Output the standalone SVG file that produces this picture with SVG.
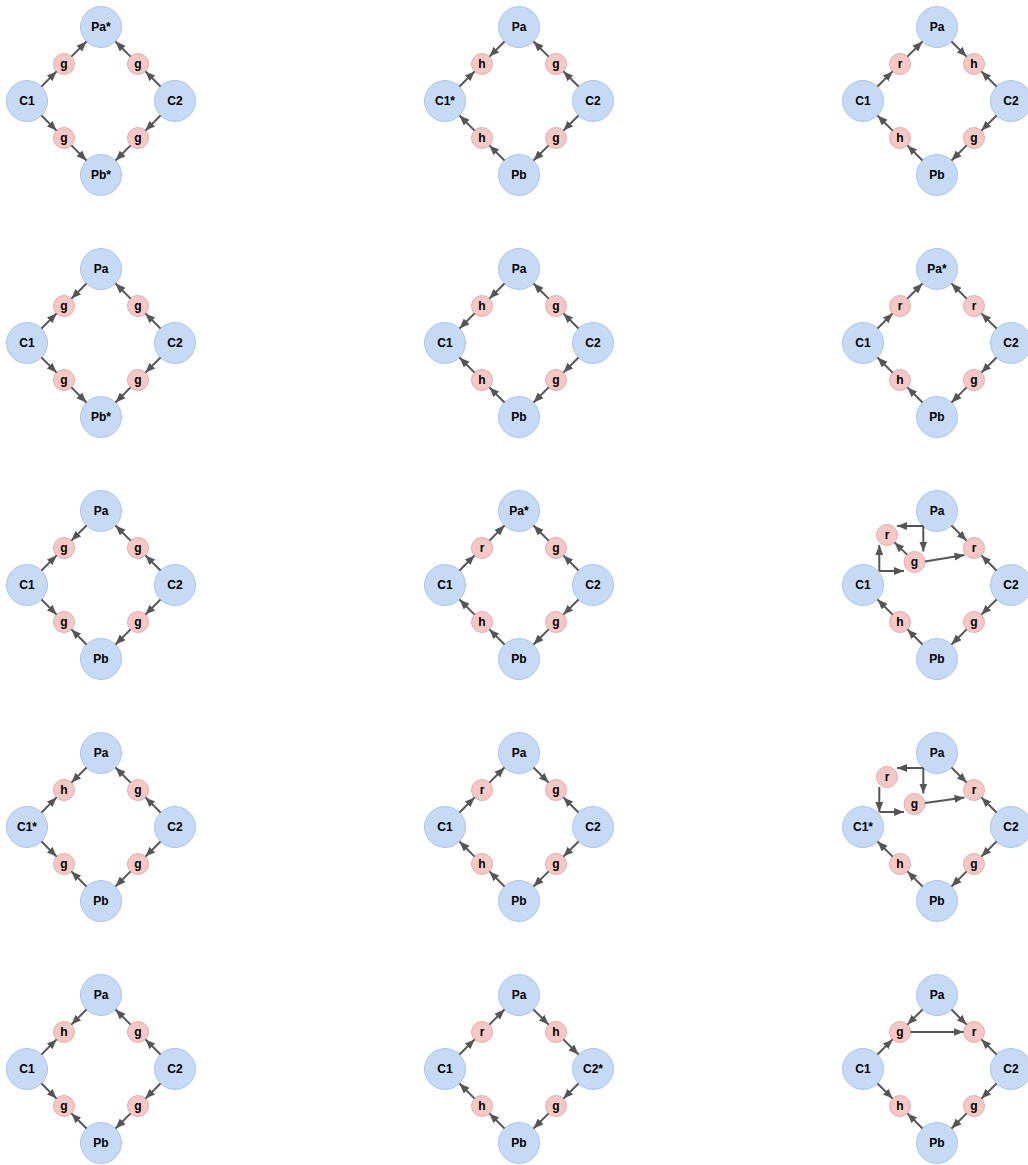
<svg xmlns="http://www.w3.org/2000/svg" width="1028" height="1165" viewBox="0 0 1028 1165">
<defs>
<marker id="ah" markerUnits="userSpaceOnUse" markerWidth="10" markerHeight="8" refX="10" refY="4" orient="auto"><path d="M0,0 L10,4 L0,8 Z" fill="#555555"/></marker>
<style>
.m circle{fill:#c6d9f5;stroke:#aec7ee;stroke-width:1}
.s circle{fill:#f5c8c8;stroke:#eaabab;stroke-width:1}
text{font-family:"Liberation Sans",Arial,sans-serif;font-size:12px;font-weight:bold;fill:#000;text-anchor:middle;dominant-baseline:central}
.e line{stroke:#555555;stroke-width:2;marker-end:url(#ah)}
</style>
</defs>
<rect width="1028" height="1165" fill="#ffffff"/>

<!-- Panel 1 -->
<g id="p1" transform="translate(101,101)">
<g id="p1-Pa" class="m"><circle cx="0" cy="-74" r="20.5"/><text x="0" y="-74">Pa*</text></g>
<g id="p1-C1" class="m"><circle cx="-74" cy="0" r="20.5"/><text x="-74" y="0">C1</text></g>
<g id="p1-C2" class="m"><circle cx="74" cy="0" r="20.5"/><text x="74" y="0">C2</text></g>
<g id="p1-Pb" class="m"><circle cx="0" cy="74" r="20.5"/><text x="0" y="74">Pb*</text></g>
<g id="p1-TL" class="s"><circle cx="-37" cy="-37" r="10.5"/><text x="-37" y="-37">g</text></g>
<g id="p1-TR" class="s"><circle cx="37" cy="-37" r="10.5"/><text x="37" y="-37">g</text></g>
<g id="p1-BL" class="s"><circle cx="-37" cy="37" r="10.5"/><text x="-37" y="37">g</text></g>
<g id="p1-BR" class="s"><circle cx="37" cy="37" r="10.5"/><text x="37" y="37">g</text></g>
<g id="p1-edges" class="e">
<line x1="-59.5" y1="-14.5" x2="-44.4" y2="-29.6"/>
<line x1="-29.6" y1="-44.4" x2="-14.5" y2="-59.5"/>
<line x1="59.5" y1="-14.5" x2="44.4" y2="-29.6"/>
<line x1="29.6" y1="-44.4" x2="14.5" y2="-59.5"/>
<line x1="-59.5" y1="14.5" x2="-44.4" y2="29.6"/>
<line x1="-29.6" y1="44.4" x2="-14.5" y2="59.5"/>
<line x1="59.5" y1="14.5" x2="44.4" y2="29.6"/>
<line x1="29.6" y1="44.4" x2="14.5" y2="59.5"/>
</g>
</g>

<!-- Panel 2 -->
<g id="p2" transform="translate(519,101)">
<g id="p2-Pa" class="m"><circle cx="0" cy="-74" r="20.5"/><text x="0" y="-74">Pa</text></g>
<g id="p2-C1" class="m"><circle cx="-74" cy="0" r="20.5"/><text x="-74" y="0">C1*</text></g>
<g id="p2-C2" class="m"><circle cx="74" cy="0" r="20.5"/><text x="74" y="0">C2</text></g>
<g id="p2-Pb" class="m"><circle cx="0" cy="74" r="20.5"/><text x="0" y="74">Pb</text></g>
<g id="p2-TL" class="s"><circle cx="-37" cy="-37" r="10.5"/><text x="-37" y="-37">h</text></g>
<g id="p2-TR" class="s"><circle cx="37" cy="-37" r="10.5"/><text x="37" y="-37">g</text></g>
<g id="p2-BL" class="s"><circle cx="-37" cy="37" r="10.5"/><text x="-37" y="37">h</text></g>
<g id="p2-BR" class="s"><circle cx="37" cy="37" r="10.5"/><text x="37" y="37">g</text></g>
<g id="p2-edges" class="e">
<line x1="-14.5" y1="-59.5" x2="-29.6" y2="-44.4"/>
<line x1="-59.5" y1="-14.5" x2="-44.4" y2="-29.6"/>
<line x1="59.5" y1="-14.5" x2="44.4" y2="-29.6"/>
<line x1="29.6" y1="-44.4" x2="14.5" y2="-59.5"/>
<line x1="-14.5" y1="59.5" x2="-29.6" y2="44.4"/>
<line x1="-44.4" y1="29.6" x2="-59.5" y2="14.5"/>
<line x1="59.5" y1="14.5" x2="44.4" y2="29.6"/>
<line x1="29.6" y1="44.4" x2="14.5" y2="59.5"/>
</g>
</g>

<!-- Panel 3 -->
<g id="p3" transform="translate(937,101)">
<g id="p3-Pa" class="m"><circle cx="0" cy="-74" r="20.5"/><text x="0" y="-74">Pa</text></g>
<g id="p3-C1" class="m"><circle cx="-74" cy="0" r="20.5"/><text x="-74" y="0">C1</text></g>
<g id="p3-C2" class="m"><circle cx="74" cy="0" r="20.5"/><text x="74" y="0">C2</text></g>
<g id="p3-Pb" class="m"><circle cx="0" cy="74" r="20.5"/><text x="0" y="74">Pb</text></g>
<g id="p3-TL" class="s"><circle cx="-37" cy="-37" r="10.5"/><text x="-37" y="-37">r</text></g>
<g id="p3-TR" class="s"><circle cx="37" cy="-37" r="10.5"/><text x="37" y="-37">h</text></g>
<g id="p3-BL" class="s"><circle cx="-37" cy="37" r="10.5"/><text x="-37" y="37">h</text></g>
<g id="p3-BR" class="s"><circle cx="37" cy="37" r="10.5"/><text x="37" y="37">g</text></g>
<g id="p3-edges" class="e">
<line x1="-59.5" y1="-14.5" x2="-44.4" y2="-29.6"/>
<line x1="-29.6" y1="-44.4" x2="-14.5" y2="-59.5"/>
<line x1="14.5" y1="-59.5" x2="29.6" y2="-44.4"/>
<line x1="59.5" y1="-14.5" x2="44.4" y2="-29.6"/>
<line x1="-14.5" y1="59.5" x2="-29.6" y2="44.4"/>
<line x1="-44.4" y1="29.6" x2="-59.5" y2="14.5"/>
<line x1="59.5" y1="14.5" x2="44.4" y2="29.6"/>
<line x1="29.6" y1="44.4" x2="14.5" y2="59.5"/>
</g>
</g>

<!-- Panel 4 -->
<g id="p4" transform="translate(101,343)">
<g id="p4-Pa" class="m"><circle cx="0" cy="-74" r="20.5"/><text x="0" y="-74">Pa</text></g>
<g id="p4-C1" class="m"><circle cx="-74" cy="0" r="20.5"/><text x="-74" y="0">C1</text></g>
<g id="p4-C2" class="m"><circle cx="74" cy="0" r="20.5"/><text x="74" y="0">C2</text></g>
<g id="p4-Pb" class="m"><circle cx="0" cy="74" r="20.5"/><text x="0" y="74">Pb*</text></g>
<g id="p4-TL" class="s"><circle cx="-37" cy="-37" r="10.5"/><text x="-37" y="-37">g</text></g>
<g id="p4-TR" class="s"><circle cx="37" cy="-37" r="10.5"/><text x="37" y="-37">g</text></g>
<g id="p4-BL" class="s"><circle cx="-37" cy="37" r="10.5"/><text x="-37" y="37">g</text></g>
<g id="p4-BR" class="s"><circle cx="37" cy="37" r="10.5"/><text x="37" y="37">g</text></g>
<g id="p4-edges" class="e">
<line x1="-14.5" y1="-59.5" x2="-29.6" y2="-44.4"/>
<line x1="-59.5" y1="-14.5" x2="-44.4" y2="-29.6"/>
<line x1="59.5" y1="-14.5" x2="44.4" y2="-29.6"/>
<line x1="29.6" y1="-44.4" x2="14.5" y2="-59.5"/>
<line x1="-59.5" y1="14.5" x2="-44.4" y2="29.6"/>
<line x1="-29.6" y1="44.4" x2="-14.5" y2="59.5"/>
<line x1="59.5" y1="14.5" x2="44.4" y2="29.6"/>
<line x1="29.6" y1="44.4" x2="14.5" y2="59.5"/>
</g>
</g>

<!-- Panel 5 -->
<g id="p5" transform="translate(519,343)">
<g id="p5-Pa" class="m"><circle cx="0" cy="-74" r="20.5"/><text x="0" y="-74">Pa</text></g>
<g id="p5-C1" class="m"><circle cx="-74" cy="0" r="20.5"/><text x="-74" y="0">C1</text></g>
<g id="p5-C2" class="m"><circle cx="74" cy="0" r="20.5"/><text x="74" y="0">C2</text></g>
<g id="p5-Pb" class="m"><circle cx="0" cy="74" r="20.5"/><text x="0" y="74">Pb</text></g>
<g id="p5-TL" class="s"><circle cx="-37" cy="-37" r="10.5"/><text x="-37" y="-37">h</text></g>
<g id="p5-TR" class="s"><circle cx="37" cy="-37" r="10.5"/><text x="37" y="-37">g</text></g>
<g id="p5-BL" class="s"><circle cx="-37" cy="37" r="10.5"/><text x="-37" y="37">h</text></g>
<g id="p5-BR" class="s"><circle cx="37" cy="37" r="10.5"/><text x="37" y="37">g</text></g>
<g id="p5-edges" class="e">
<line x1="-14.5" y1="-59.5" x2="-29.6" y2="-44.4"/>
<line x1="-44.4" y1="-29.6" x2="-59.5" y2="-14.5"/>
<line x1="59.5" y1="-14.5" x2="44.4" y2="-29.6"/>
<line x1="29.6" y1="-44.4" x2="14.5" y2="-59.5"/>
<line x1="-14.5" y1="59.5" x2="-29.6" y2="44.4"/>
<line x1="-44.4" y1="29.6" x2="-59.5" y2="14.5"/>
<line x1="59.5" y1="14.5" x2="44.4" y2="29.6"/>
<line x1="29.6" y1="44.4" x2="14.5" y2="59.5"/>
</g>
</g>

<!-- Panel 6 -->
<g id="p6" transform="translate(937,343)">
<g id="p6-Pa" class="m"><circle cx="0" cy="-74" r="20.5"/><text x="0" y="-74">Pa*</text></g>
<g id="p6-C1" class="m"><circle cx="-74" cy="0" r="20.5"/><text x="-74" y="0">C1</text></g>
<g id="p6-C2" class="m"><circle cx="74" cy="0" r="20.5"/><text x="74" y="0">C2</text></g>
<g id="p6-Pb" class="m"><circle cx="0" cy="74" r="20.5"/><text x="0" y="74">Pb</text></g>
<g id="p6-TL" class="s"><circle cx="-37" cy="-37" r="10.5"/><text x="-37" y="-37">r</text></g>
<g id="p6-TR" class="s"><circle cx="37" cy="-37" r="10.5"/><text x="37" y="-37">r</text></g>
<g id="p6-BL" class="s"><circle cx="-37" cy="37" r="10.5"/><text x="-37" y="37">h</text></g>
<g id="p6-BR" class="s"><circle cx="37" cy="37" r="10.5"/><text x="37" y="37">g</text></g>
<g id="p6-edges" class="e">
<line x1="-59.5" y1="-14.5" x2="-44.4" y2="-29.6"/>
<line x1="-29.6" y1="-44.4" x2="-14.5" y2="-59.5"/>
<line x1="59.5" y1="-14.5" x2="44.4" y2="-29.6"/>
<line x1="29.6" y1="-44.4" x2="14.5" y2="-59.5"/>
<line x1="-14.5" y1="59.5" x2="-29.6" y2="44.4"/>
<line x1="-44.4" y1="29.6" x2="-59.5" y2="14.5"/>
<line x1="59.5" y1="14.5" x2="44.4" y2="29.6"/>
<line x1="29.6" y1="44.4" x2="14.5" y2="59.5"/>
</g>
</g>

<!-- Panel 7 -->
<g id="p7" transform="translate(101,585)">
<g id="p7-Pa" class="m"><circle cx="0" cy="-74" r="20.5"/><text x="0" y="-74">Pa</text></g>
<g id="p7-C1" class="m"><circle cx="-74" cy="0" r="20.5"/><text x="-74" y="0">C1</text></g>
<g id="p7-C2" class="m"><circle cx="74" cy="0" r="20.5"/><text x="74" y="0">C2</text></g>
<g id="p7-Pb" class="m"><circle cx="0" cy="74" r="20.5"/><text x="0" y="74">Pb</text></g>
<g id="p7-TL" class="s"><circle cx="-37" cy="-37" r="10.5"/><text x="-37" y="-37">g</text></g>
<g id="p7-TR" class="s"><circle cx="37" cy="-37" r="10.5"/><text x="37" y="-37">g</text></g>
<g id="p7-BL" class="s"><circle cx="-37" cy="37" r="10.5"/><text x="-37" y="37">g</text></g>
<g id="p7-BR" class="s"><circle cx="37" cy="37" r="10.5"/><text x="37" y="37">g</text></g>
<g id="p7-edges" class="e">
<line x1="-14.5" y1="-59.5" x2="-29.6" y2="-44.4"/>
<line x1="-59.5" y1="-14.5" x2="-44.4" y2="-29.6"/>
<line x1="59.5" y1="-14.5" x2="44.4" y2="-29.6"/>
<line x1="29.6" y1="-44.4" x2="14.5" y2="-59.5"/>
<line x1="-59.5" y1="14.5" x2="-44.4" y2="29.6"/>
<line x1="-14.5" y1="59.5" x2="-29.6" y2="44.4"/>
<line x1="59.5" y1="14.5" x2="44.4" y2="29.6"/>
<line x1="29.6" y1="44.4" x2="14.5" y2="59.5"/>
</g>
</g>

<!-- Panel 8 -->
<g id="p8" transform="translate(519,585)">
<g id="p8-Pa" class="m"><circle cx="0" cy="-74" r="20.5"/><text x="0" y="-74">Pa*</text></g>
<g id="p8-C1" class="m"><circle cx="-74" cy="0" r="20.5"/><text x="-74" y="0">C1</text></g>
<g id="p8-C2" class="m"><circle cx="74" cy="0" r="20.5"/><text x="74" y="0">C2</text></g>
<g id="p8-Pb" class="m"><circle cx="0" cy="74" r="20.5"/><text x="0" y="74">Pb</text></g>
<g id="p8-TL" class="s"><circle cx="-37" cy="-37" r="10.5"/><text x="-37" y="-37">r</text></g>
<g id="p8-TR" class="s"><circle cx="37" cy="-37" r="10.5"/><text x="37" y="-37">g</text></g>
<g id="p8-BL" class="s"><circle cx="-37" cy="37" r="10.5"/><text x="-37" y="37">h</text></g>
<g id="p8-BR" class="s"><circle cx="37" cy="37" r="10.5"/><text x="37" y="37">g</text></g>
<g id="p8-edges" class="e">
<line x1="-59.5" y1="-14.5" x2="-44.4" y2="-29.6"/>
<line x1="-29.6" y1="-44.4" x2="-14.5" y2="-59.5"/>
<line x1="59.5" y1="-14.5" x2="44.4" y2="-29.6"/>
<line x1="29.6" y1="-44.4" x2="14.5" y2="-59.5"/>
<line x1="-14.5" y1="59.5" x2="-29.6" y2="44.4"/>
<line x1="-44.4" y1="29.6" x2="-59.5" y2="14.5"/>
<line x1="59.5" y1="14.5" x2="44.4" y2="29.6"/>
<line x1="29.6" y1="44.4" x2="14.5" y2="59.5"/>
</g>
</g>

<!-- Panel 9 -->
<g id="p9" transform="translate(937,585)">
<g id="p9-Pa" class="m"><circle cx="0" cy="-74" r="20.5"/><text x="0" y="-74">Pa</text></g>
<g id="p9-C1" class="m"><circle cx="-74" cy="0" r="20.5"/><text x="-74" y="0">C1</text></g>
<g id="p9-C2" class="m"><circle cx="74" cy="0" r="20.5"/><text x="74" y="0">C2</text></g>
<g id="p9-Pb" class="m"><circle cx="0" cy="74" r="20.5"/><text x="0" y="74">Pb</text></g>
<g id="p9-rL" class="s"><circle cx="-50" cy="-50" r="10.5"/><text x="-50" y="-50">r</text></g>
<g id="p9-g" class="s"><circle cx="-22.5" cy="-23" r="10.5"/><text x="-22.5" y="-23">g</text></g>
<g id="p9-TR" class="s"><circle cx="37" cy="-37" r="10.5"/><text x="37" y="-37">r</text></g>
<g id="p9-BL" class="s"><circle cx="-37" cy="37" r="10.5"/><text x="-37" y="37">h</text></g>
<g id="p9-BR" class="s"><circle cx="37" cy="37" r="10.5"/><text x="37" y="37">g</text></g>
<g id="p9-edges" class="e">
<line x1="-13.7" y1="-59" x2="-40" y2="-59"/>
<line x1="-13.7" y1="-59" x2="-13.7" y2="-33.5"/>
<line x1="-30" y1="-30.4" x2="-42.5" y2="-42.6"/>
<line x1="-57.7" y1="-14" x2="-57.7" y2="-40"/>
<line x1="-57.7" y1="-14" x2="-33" y2="-14"/>
<line x1="-12" y1="-23.5" x2="27.5" y2="-30"/>
<line x1="14.5" y1="-59.5" x2="29.6" y2="-44.4"/>
<line x1="59.5" y1="-14.5" x2="44.4" y2="-29.6"/>
<line x1="-14.5" y1="59.5" x2="-29.6" y2="44.4"/>
<line x1="-44.4" y1="29.6" x2="-59.5" y2="14.5"/>
<line x1="59.5" y1="14.5" x2="44.4" y2="29.6"/>
<line x1="29.6" y1="44.4" x2="14.5" y2="59.5"/>
</g>
</g>

<!-- Panel 10 -->
<g id="p10" transform="translate(101,827)">
<g id="p10-Pa" class="m"><circle cx="0" cy="-74" r="20.5"/><text x="0" y="-74">Pa</text></g>
<g id="p10-C1" class="m"><circle cx="-74" cy="0" r="20.5"/><text x="-74" y="0">C1*</text></g>
<g id="p10-C2" class="m"><circle cx="74" cy="0" r="20.5"/><text x="74" y="0">C2</text></g>
<g id="p10-Pb" class="m"><circle cx="0" cy="74" r="20.5"/><text x="0" y="74">Pb</text></g>
<g id="p10-TL" class="s"><circle cx="-37" cy="-37" r="10.5"/><text x="-37" y="-37">h</text></g>
<g id="p10-TR" class="s"><circle cx="37" cy="-37" r="10.5"/><text x="37" y="-37">g</text></g>
<g id="p10-BL" class="s"><circle cx="-37" cy="37" r="10.5"/><text x="-37" y="37">g</text></g>
<g id="p10-BR" class="s"><circle cx="37" cy="37" r="10.5"/><text x="37" y="37">g</text></g>
<g id="p10-edges" class="e">
<line x1="-14.5" y1="-59.5" x2="-29.6" y2="-44.4"/>
<line x1="-59.5" y1="-14.5" x2="-44.4" y2="-29.6"/>
<line x1="59.5" y1="-14.5" x2="44.4" y2="-29.6"/>
<line x1="29.6" y1="-44.4" x2="14.5" y2="-59.5"/>
<line x1="-59.5" y1="14.5" x2="-44.4" y2="29.6"/>
<line x1="-14.5" y1="59.5" x2="-29.6" y2="44.4"/>
<line x1="59.5" y1="14.5" x2="44.4" y2="29.6"/>
<line x1="29.6" y1="44.4" x2="14.5" y2="59.5"/>
</g>
</g>

<!-- Panel 11 -->
<g id="p11" transform="translate(519,827)">
<g id="p11-Pa" class="m"><circle cx="0" cy="-74" r="20.5"/><text x="0" y="-74">Pa</text></g>
<g id="p11-C1" class="m"><circle cx="-74" cy="0" r="20.5"/><text x="-74" y="0">C1</text></g>
<g id="p11-C2" class="m"><circle cx="74" cy="0" r="20.5"/><text x="74" y="0">C2</text></g>
<g id="p11-Pb" class="m"><circle cx="0" cy="74" r="20.5"/><text x="0" y="74">Pb</text></g>
<g id="p11-TL" class="s"><circle cx="-37" cy="-37" r="10.5"/><text x="-37" y="-37">r</text></g>
<g id="p11-TR" class="s"><circle cx="37" cy="-37" r="10.5"/><text x="37" y="-37">g</text></g>
<g id="p11-BL" class="s"><circle cx="-37" cy="37" r="10.5"/><text x="-37" y="37">h</text></g>
<g id="p11-BR" class="s"><circle cx="37" cy="37" r="10.5"/><text x="37" y="37">g</text></g>
<g id="p11-edges" class="e">
<line x1="-59.5" y1="-14.5" x2="-44.4" y2="-29.6"/>
<line x1="-29.6" y1="-44.4" x2="-14.5" y2="-59.5"/>
<line x1="14.5" y1="-59.5" x2="29.6" y2="-44.4"/>
<line x1="59.5" y1="-14.5" x2="44.4" y2="-29.6"/>
<line x1="-14.5" y1="59.5" x2="-29.6" y2="44.4"/>
<line x1="-44.4" y1="29.6" x2="-59.5" y2="14.5"/>
<line x1="59.5" y1="14.5" x2="44.4" y2="29.6"/>
<line x1="29.6" y1="44.4" x2="14.5" y2="59.5"/>
</g>
</g>

<!-- Panel 12 -->
<g id="p12" transform="translate(937,827)">
<g id="p12-Pa" class="m"><circle cx="0" cy="-74" r="20.5"/><text x="0" y="-74">Pa</text></g>
<g id="p12-C1" class="m"><circle cx="-74" cy="0" r="20.5"/><text x="-74" y="0">C1*</text></g>
<g id="p12-C2" class="m"><circle cx="74" cy="0" r="20.5"/><text x="74" y="0">C2</text></g>
<g id="p12-Pb" class="m"><circle cx="0" cy="74" r="20.5"/><text x="0" y="74">Pb</text></g>
<g id="p12-rL" class="s"><circle cx="-50" cy="-50" r="10.5"/><text x="-50" y="-50">r</text></g>
<g id="p12-g" class="s"><circle cx="-22.5" cy="-23" r="10.5"/><text x="-22.5" y="-23">g</text></g>
<g id="p12-TR" class="s"><circle cx="37" cy="-37" r="10.5"/><text x="37" y="-37">r</text></g>
<g id="p12-BL" class="s"><circle cx="-37" cy="37" r="10.5"/><text x="-37" y="37">h</text></g>
<g id="p12-BR" class="s"><circle cx="37" cy="37" r="10.5"/><text x="37" y="37">g</text></g>
<g id="p12-edges" class="e">
<line x1="-13.7" y1="-59" x2="-40" y2="-59"/>
<line x1="-13.7" y1="-59" x2="-13.7" y2="-33.5"/>
<line x1="-57.7" y1="-40" x2="-57.7" y2="-15"/>
<line x1="-57.7" y1="-15" x2="-33" y2="-15"/>
<line x1="-12" y1="-24" x2="27.5" y2="-29.5"/>
<line x1="14.5" y1="-59.5" x2="29.6" y2="-44.4"/>
<line x1="59.5" y1="-14.5" x2="44.4" y2="-29.6"/>
<line x1="-14.5" y1="59.5" x2="-29.6" y2="44.4"/>
<line x1="-44.4" y1="29.6" x2="-59.5" y2="14.5"/>
<line x1="59.5" y1="14.5" x2="44.4" y2="29.6"/>
<line x1="29.6" y1="44.4" x2="14.5" y2="59.5"/>
</g>
</g>

<!-- Panel 13 -->
<g id="p13" transform="translate(101,1069)">
<g id="p13-Pa" class="m"><circle cx="0" cy="-74" r="20.5"/><text x="0" y="-74">Pa</text></g>
<g id="p13-C1" class="m"><circle cx="-74" cy="0" r="20.5"/><text x="-74" y="0">C1</text></g>
<g id="p13-C2" class="m"><circle cx="74" cy="0" r="20.5"/><text x="74" y="0">C2</text></g>
<g id="p13-Pb" class="m"><circle cx="0" cy="74" r="20.5"/><text x="0" y="74">Pb</text></g>
<g id="p13-TL" class="s"><circle cx="-37" cy="-37" r="10.5"/><text x="-37" y="-37">h</text></g>
<g id="p13-TR" class="s"><circle cx="37" cy="-37" r="10.5"/><text x="37" y="-37">g</text></g>
<g id="p13-BL" class="s"><circle cx="-37" cy="37" r="10.5"/><text x="-37" y="37">g</text></g>
<g id="p13-BR" class="s"><circle cx="37" cy="37" r="10.5"/><text x="37" y="37">g</text></g>
<g id="p13-edges" class="e">
<line x1="-14.5" y1="-59.5" x2="-29.6" y2="-44.4"/>
<line x1="-59.5" y1="-14.5" x2="-44.4" y2="-29.6"/>
<line x1="59.5" y1="-14.5" x2="44.4" y2="-29.6"/>
<line x1="29.6" y1="-44.4" x2="14.5" y2="-59.5"/>
<line x1="-59.5" y1="14.5" x2="-44.4" y2="29.6"/>
<line x1="-14.5" y1="59.5" x2="-29.6" y2="44.4"/>
<line x1="59.5" y1="14.5" x2="44.4" y2="29.6"/>
<line x1="29.6" y1="44.4" x2="14.5" y2="59.5"/>
</g>
</g>

<!-- Panel 14 -->
<g id="p14" transform="translate(519,1069)">
<g id="p14-Pa" class="m"><circle cx="0" cy="-74" r="20.5"/><text x="0" y="-74">Pa</text></g>
<g id="p14-C1" class="m"><circle cx="-74" cy="0" r="20.5"/><text x="-74" y="0">C1</text></g>
<g id="p14-C2" class="m"><circle cx="74" cy="0" r="20.5"/><text x="74" y="0">C2*</text></g>
<g id="p14-Pb" class="m"><circle cx="0" cy="74" r="20.5"/><text x="0" y="74">Pb</text></g>
<g id="p14-TL" class="s"><circle cx="-37" cy="-37" r="10.5"/><text x="-37" y="-37">r</text></g>
<g id="p14-TR" class="s"><circle cx="37" cy="-37" r="10.5"/><text x="37" y="-37">h</text></g>
<g id="p14-BL" class="s"><circle cx="-37" cy="37" r="10.5"/><text x="-37" y="37">h</text></g>
<g id="p14-BR" class="s"><circle cx="37" cy="37" r="10.5"/><text x="37" y="37">g</text></g>
<g id="p14-edges" class="e">
<line x1="-59.5" y1="-14.5" x2="-44.4" y2="-29.6"/>
<line x1="-29.6" y1="-44.4" x2="-14.5" y2="-59.5"/>
<line x1="14.5" y1="-59.5" x2="29.6" y2="-44.4"/>
<line x1="44.4" y1="-29.6" x2="59.5" y2="-14.5"/>
<line x1="-14.5" y1="59.5" x2="-29.6" y2="44.4"/>
<line x1="-44.4" y1="29.6" x2="-59.5" y2="14.5"/>
<line x1="59.5" y1="14.5" x2="44.4" y2="29.6"/>
<line x1="29.6" y1="44.4" x2="14.5" y2="59.5"/>
</g>
</g>

<!-- Panel 15 -->
<g id="p15" transform="translate(937,1069)">
<g id="p15-Pa" class="m"><circle cx="0" cy="-74" r="20.5"/><text x="0" y="-74">Pa</text></g>
<g id="p15-C1" class="m"><circle cx="-74" cy="0" r="20.5"/><text x="-74" y="0">C1</text></g>
<g id="p15-C2" class="m"><circle cx="74" cy="0" r="20.5"/><text x="74" y="0">C2</text></g>
<g id="p15-Pb" class="m"><circle cx="0" cy="74" r="20.5"/><text x="0" y="74">Pb</text></g>
<g id="p15-TL" class="s"><circle cx="-37" cy="-37" r="10.5"/><text x="-37" y="-37">g</text></g>
<g id="p15-TR" class="s"><circle cx="37" cy="-37" r="10.5"/><text x="37" y="-37">r</text></g>
<g id="p15-BL" class="s"><circle cx="-37" cy="37" r="10.5"/><text x="-37" y="37">h</text></g>
<g id="p15-BR" class="s"><circle cx="37" cy="37" r="10.5"/><text x="37" y="37">g</text></g>
<g id="p15-edges" class="e">
<line x1="-14.5" y1="-59.5" x2="-29.6" y2="-44.4"/>
<line x1="-59.5" y1="-14.5" x2="-44.4" y2="-29.6"/>
<line x1="-26.5" y1="-37" x2="26.5" y2="-37"/>
<line x1="14.5" y1="-59.5" x2="29.6" y2="-44.4"/>
<line x1="59.5" y1="-14.5" x2="44.4" y2="-29.6"/>
<line x1="-59.5" y1="14.5" x2="-44.4" y2="29.6"/>
<line x1="-14.5" y1="59.5" x2="-29.6" y2="44.4"/>
<line x1="59.5" y1="14.5" x2="44.4" y2="29.6"/>
<line x1="29.6" y1="44.4" x2="14.5" y2="59.5"/>
</g>
</g>
</svg>
